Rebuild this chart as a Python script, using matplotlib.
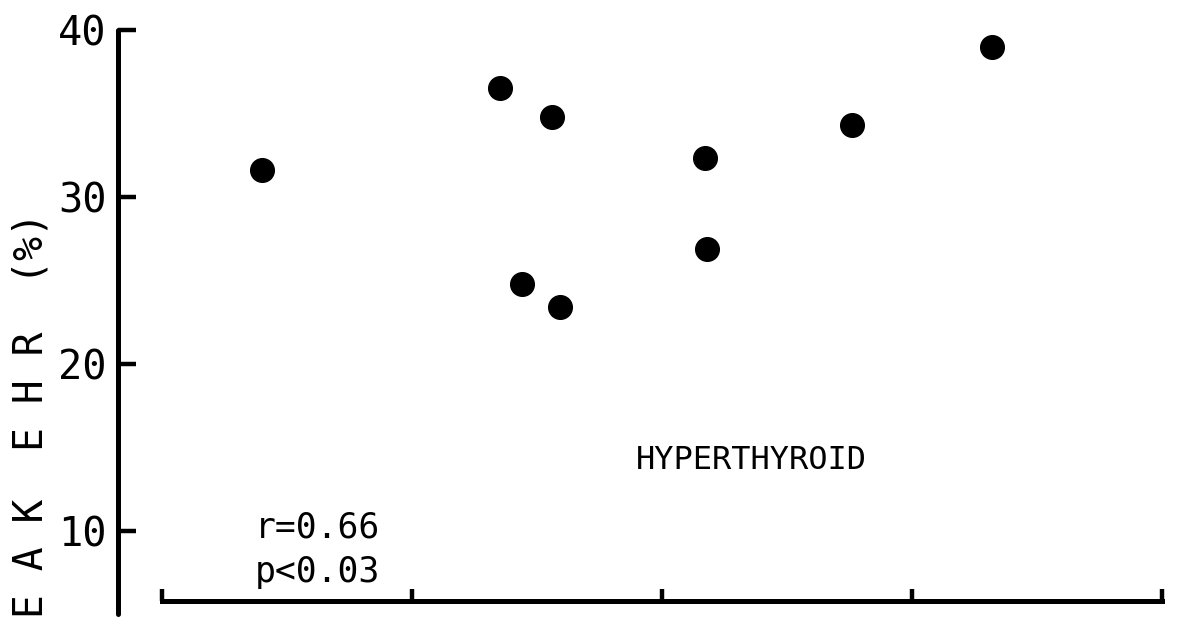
import matplotlib
matplotlib.use("Agg")
import matplotlib.pyplot as plt

# hyperthyroid group: x in tick units, peak EHR in %
x_vals = [0.40, 1.35, 1.56, 1.44, 1.59, 2.17, 2.18, 2.76, 3.32]
y_vals = [31.6, 36.5, 34.8, 24.8, 23.4, 32.3, 26.9, 34.3, 39.0]
x_ticks = [0, 1, 2, 3, 4]
y_ticks = [10, 20, 30, 40]

font = "DejaVu Sans Mono"

fig = plt.figure(figsize=(11.85, 6.22), dpi=100)
ax = fig.add_axes([118 / 1185, 8 / 622, 1067 / 1185, 584 / 622])

ax.scatter(x_vals, y_vals, s=290, color="black", zorder=3, clip_on=False)

ax.set_xlim(-0.176, 4.092)
ax.set_ylim(5, 40)

for side in ("top", "right"):
    ax.spines[side].set_visible(False)
ax.spines["left"].set_linewidth(3.6)
ax.spines["bottom"].set_linewidth(3.6)
ax.spines["bottom"].set_position(("data", 5.8))
ax.spines["bottom"].set_bounds(0, 4)
ax.spines["left"].set_capstyle("round")

ax.set_xticks(x_ticks)
ax.set_xticklabels([])
ax.tick_params(axis="x", direction="in", length=9, width=3.2)
ax.set_yticks(y_ticks)
ax.set_yticklabels([str(v) for v in y_ticks], family=font, fontsize=29)
ax.tick_params(axis="y", direction="out", length=0, width=3.2, pad=8)
# y ticks stick out to the right of the axis line
for v in y_ticks:
    ax.plot([-0.176, -0.105], [v, v], color="black", lw=3.2, clip_on=False,
            solid_capstyle="butt")

ax.text(1.895, 14.2, "HYPERTHYROID", family=font, fontsize=23,
        ha="left", va="center")
ax.text(0.372, 10.2, "r=0.66", family=font, fontsize=25, ha="left", va="center")
ax.text(0.372, 7.5, "p<0.03", family=font, fontsize=25, ha="left", va="center")

fig.text(32 / 1185, 1 - 415 / 622, "E A K  E H R  (%)", family=font,
         fontsize=28.5, rotation=90, ha="center", va="center")

fig.savefig("out.png", dpi=100)
